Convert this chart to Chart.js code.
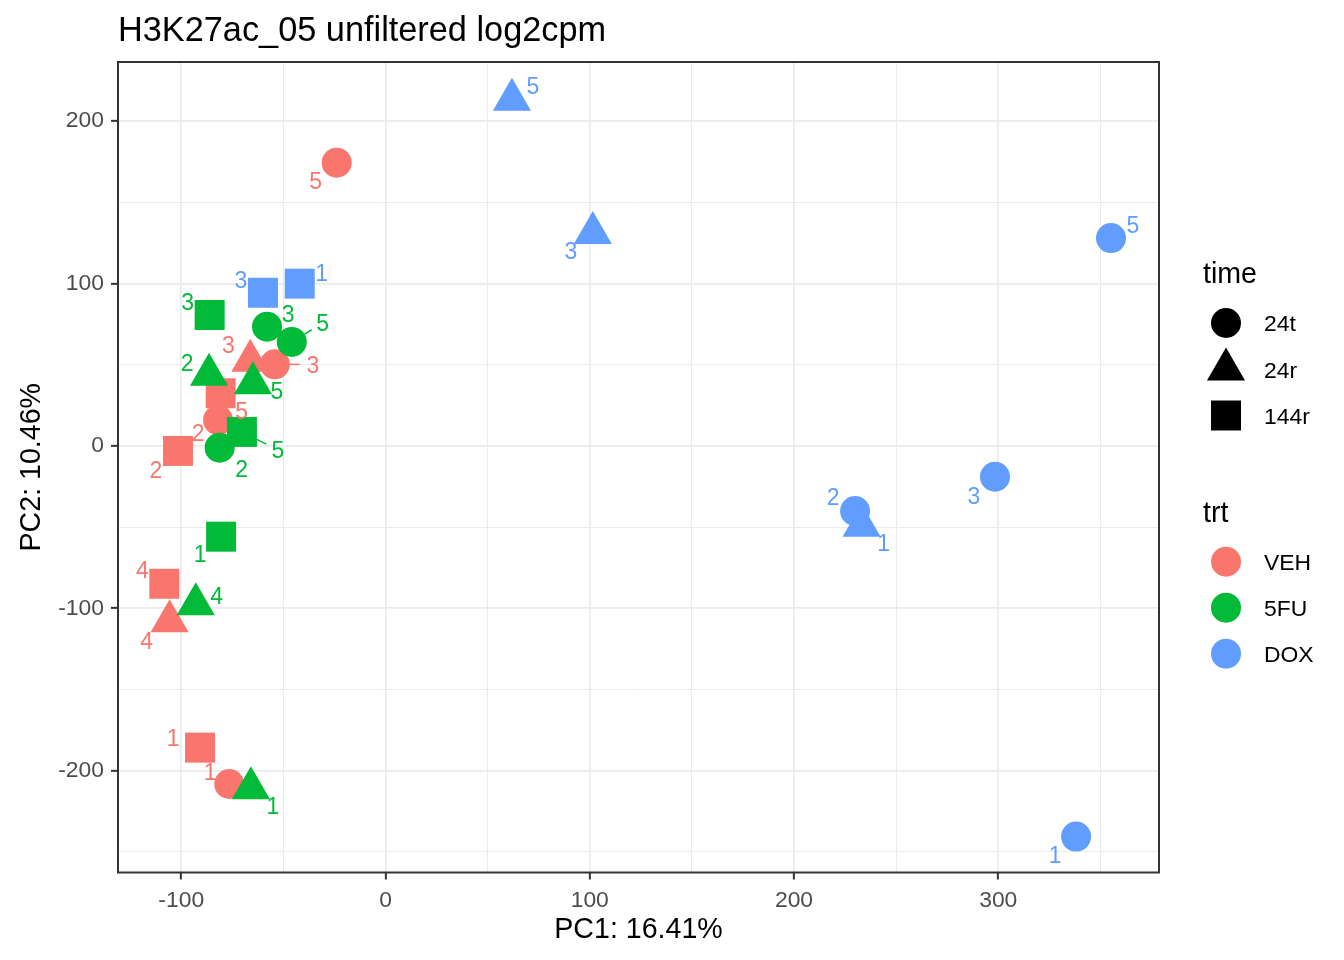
<!DOCTYPE html>
<html>
<head>
<meta charset="utf-8">
<title>H3K27ac_05 unfiltered log2cpm</title>
<script src="https://cdn.jsdelivr.net/npm/chart.js@4.4.0/dist/chart.umd.min.js"></script>
<style>
  html, body { margin: 0; padding: 0; background: #fff; }
  canvas { display: block; }
</style>
</head>
<body>
<canvas id="pca" width="1344" height="960"></canvas>
<script>
'use strict';

// ── Data ──────────────────────────────────────────────────────
const pc1  = [-23.9, -54.2, -82.0, -76.5, -66.2, -105.7, -80.7, -101.6, -108.3, -90.8,
              -58.0, -45.9, -81.2, -86.4, -64.9, -92.9, -65.9, -86.1, -70.3, -80.5,
              355.2, 229.9, 298.4, 338.1, 61.9, 101.5, 233.1, -60.0, -42.0];
const pc2  = [174.4, 50.2, 15.9, -208.2, 52.5, -108.0, 32.4, -3.1, -84.9, -185.8,
              73.4, 64.0, -1.1, 43.8, 38.5, -97.5, -210.8, 80.6, 8.6, -55.9,
              128.0, -40.1, -19.0, -240.6, 213.2, 131.1, -49.1, 94.3, 99.9];
const trt  = ['VEH','VEH','VEH','VEH','VEH','VEH','VEH','VEH','VEH','VEH',
              '5FU','5FU','5FU','5FU','5FU','5FU','5FU','5FU','5FU','5FU',
              'DOX','DOX','DOX','DOX','DOX','DOX','DOX','DOX','DOX'];
const time = ['24t','24t','24t','24t','24r','24r','144r','144r','144r','144r',
              '24t','24t','24t','24r','24r','24r','24r','144r','144r','144r',
              '24t','24t','24t','24t','24r','24r','24r','144r','144r'];
const rep  = ['5','3','2','1','3','4','5','2','4','1',
              '3','5','2','2','5','4','1','3','5','1',
              '5','2','3','1','5','3','1','3','1'];

const trtLevels  = ['VEH', '5FU', 'DOX'];
const timeLevels = ['24t', '24r', '144r'];
const xTicks = [-100, 0, 100, 200, 300];
const yTicks = [-200, -100, 0, 100, 200];

// repel-style label nudges in px (layout only)
const labelNudge = [[-21,18],[38,0],[-20,13],[-19,-12],[-22,-16],[-23,20],[21,18],[-22,19],[-22,-14],[-27,-10],
                    [21,-13],[31,-19],[22,21],[-22,-12],[24,7],[21,-8],[22,18],[-22,-13],[36,18],[-21,17],
                    [22,-13],[-22,-14],[-21,19],[-21,18],[21,-14],[-22,18],[22,17],[-22,-13],[22,-11]];

// ── Styles ────────────────────────────────────────────────────
const FONT   = "'Liberation Sans', Arial, sans-serif";
const colors = { VEH: '#F8766D', '5FU': '#00BA38', DOX: '#619CFF' };
const shapes = { '24t': 'circle', '24r': 'triangle', '144r': 'rect' };
const radii  = { '24t': 15, '24r': 22, '144r': 21.2 };
const PANEL  = { left: 118, top: 62, right: 1159, bottom: 872.5 };

Chart.defaults.font.family = FONT;

// ── Replicate labels ──────────────────────────────────────────
const repLabels = {
  id: 'repLabels',
  afterDatasetsDraw(chart) {
    const { ctx } = chart;
    const meta = chart.getDatasetMeta(0);
    ctx.save();
    ctx.font = `23px ${FONT}`;
    ctx.textAlign = 'center';
    ctx.textBaseline = 'alphabetic';
    meta.data.forEach((pt, i) => {
      const [dx, dy] = labelNudge[i];
      const col = colors[trt[i]];
      const d = Math.hypot(dx, dy);
      if (d > 34) {
        ctx.strokeStyle = col;
        ctx.lineWidth = 1.5;
        ctx.beginPath();
        ctx.moveTo(pt.x + dx / d * 15, pt.y + dy / d * 15);
        ctx.lineTo(pt.x + dx / d * (d - 13), pt.y + dy / d * (d - 13));
        ctx.stroke();
      }
      ctx.fillStyle = col;
      ctx.fillText(rep[i], pt.x + dx, pt.y + dy + 8.2);
    });
    ctx.restore();
  }
};

// ── Panel border, titles, legend ──────────────────────────────
function drawShape(ctx, shape, x, y, r) {
  ctx.beginPath();
  if (shape === 'circle') {
    ctx.arc(x, y, r, 0, Math.PI * 2);
  } else if (shape === 'triangle') {
    for (let k = 0; k < 3; k++) {
      const a = k * 2 * Math.PI / 3;
      const px = x + Math.sin(a) * r, py = y - Math.cos(a) * r;
      k ? ctx.lineTo(px, py) : ctx.moveTo(px, py);
    }
    ctx.closePath();
  } else {
    const s = r * Math.SQRT1_2;
    ctx.rect(x - s, y - s, 2 * s, 2 * s);
  }
  ctx.fill();
}

const decorations = {
  id: 'decorations',
  afterDraw(chart) {
    const { ctx, chartArea: a } = chart;
    ctx.save();

    ctx.strokeStyle = '#333333';
    ctx.lineWidth = 2;
    ctx.strokeRect(a.left, a.top, a.right - a.left, a.bottom - a.top);

    ctx.fillStyle = '#000';
    ctx.textBaseline = 'alphabetic';
    ctx.font = `34.3px ${FONT}`;
    ctx.textAlign = 'left';
    ctx.fillText('H3K27ac_05 unfiltered log2cpm', a.left, 41);

    ctx.font = `28.6px ${FONT}`;
    ctx.textAlign = 'center';
    ctx.fillText('PC1: 16.41%', (a.left + a.right) / 2, 938);
    ctx.save();
    ctx.translate(40, (a.top + a.bottom) / 2);
    ctx.rotate(-Math.PI / 2);
    ctx.fillText('PC2: 10.46%', 0, 0);
    ctx.restore();

    // legend: time
    ctx.textAlign = 'left';
    ctx.font = `28.6px ${FONT}`;
    ctx.fillText('time', 1203, 283);
    const timeY = [323, 369.5, 415.5];
    timeLevels.forEach((t, k) => {
      ctx.fillStyle = '#000';
      drawShape(ctx, shapes[t], 1226, timeY[k], radii[t]);
      ctx.font = `22.9px ${FONT}`;
      ctx.fillText(t, 1264, timeY[k] + 8.2);
    });

    // legend: trt
    ctx.font = `28.6px ${FONT}`;
    ctx.fillStyle = '#000';
    ctx.fillText('trt', 1203, 522);
    const trtY = [561.7, 607.7, 653.7];
    trtLevels.forEach((t, k) => {
      ctx.fillStyle = colors[t];
      drawShape(ctx, 'circle', 1226, trtY[k], 15);
      ctx.fillStyle = '#000';
      ctx.font = `22.9px ${FONT}`;
      ctx.fillText(t, 1264, trtY[k] + 8.2);
    });

    ctx.restore();
  }
};

// ── Scales ────────────────────────────────────────────────────
const isMajor = (v, list) => list.includes(Math.round(v));

// majors plus the minor breaks halfway between them, kept inside [min, max]
function gridBreaks(majors, min, max) {
  const half = (majors[1] - majors[0]) / 2;
  const out = [];
  for (let v = majors[0] - 2 * half; v <= majors[majors.length - 1] + 2 * half; v += half) {
    if (v >= min && v <= max) out.push({ value: v });
  }
  return out;
}

function axisOpts(min, max, majors, fitKey, fitVal) {
  return {
    type: 'linear',
    min, max,
    border: { display: false },
    grid: {
      color: '#ebebeb',
      lineWidth: c => isMajor(c.tick.value, majors) ? 1.7 : 1,
      tickColor: c => isMajor(c.tick.value, majors) ? '#333333' : 'rgba(0,0,0,0)',
      tickWidth: 2,
      tickLength: 7,
      drawTicks: true
    },
    ticks: {
      autoSkip: false,
      maxRotation: 0,
      padding: 7,
      color: '#4d4d4d',
      font: { size: 22.9 },
      callback: v => isMajor(v, majors) ? String(v) : ''
    },
    afterBuildTicks: s => { s.ticks = gridBreaks(majors, min, max); },
    afterFit: s => { s[fitKey] = fitVal; }
  };
}

// ── Chart ─────────────────────────────────────────────────────
new Chart(document.getElementById('pca'), {
  type: 'scatter',
  data: {
    datasets: [{
      data: pc1.map((x, i) => ({ x, y: pc2[i] })),
      pointStyle: c => shapes[time[c.dataIndex]],
      pointRadius: c => radii[time[c.dataIndex]],
      pointHoverRadius: c => radii[time[c.dataIndex]],
      backgroundColor: c => colors[trt[c.dataIndex]],
      borderWidth: 0,
      clip: false
    }]
  },
  options: {
    responsive: false,
    animation: false,
    events: [],
    layout: { padding: { left: 0, top: PANEL.top, right: 1344 - PANEL.right, bottom: 0 } },
    plugins: { legend: { display: false }, tooltip: { enabled: false }, title: { display: false } },
    scales: {
      x: axisOpts(-130.97, 378.7, xTicks, 'height', 960 - PANEL.bottom),
      y: axisOpts(-262.7, 236.4, yTicks, 'width', PANEL.left)
    }
  },
  plugins: [repLabels, decorations]
});
</script>
</body>
</html>
